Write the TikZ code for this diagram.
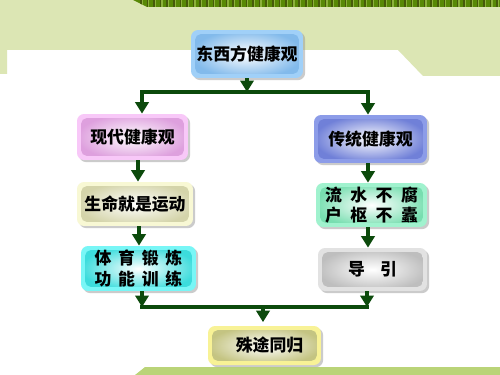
\documentclass[tikz,border=0pt]{standalone}
\usepackage{fontspec}
\setmainfont{Noto Sans CJK SC}
\usetikzlibrary{arrows.meta,shadows,calc}
\definecolor{dkg}{RGB}{12,74,12}
\definecolor{bgg}{RGB}{220,230,180}
\definecolor{barg}{RGB}{186,212,120}
\definecolor{strg}{RGB}{88,136,6}
\definecolor{strd}{RGB}{70,90,10}
\definecolor{strl}{RGB}{140,176,60}
\definecolor{cTopA}{RGB}{160,208,248}\definecolor{cTopB}{RGB}{130,186,235}
\definecolor{cLiA}{RGB}{248,200,248}\definecolor{cLiB}{RGB}{222,160,222}
\definecolor{cLiiA}{RGB}{248,248,212}\definecolor{cLiiB}{RGB}{212,212,170}
\definecolor{cLiiiA}{RGB}{120,246,246}\definecolor{cLiiiB}{RGB}{60,220,220}
\definecolor{cRiA}{RGB}{140,156,232}\definecolor{cRiB}{RGB}{112,128,216}
\definecolor{cRiiA}{RGB}{160,242,206}\definecolor{cRiiB}{RGB}{120,222,176}
\definecolor{cRiiiA}{RGB}{226,226,226}\definecolor{cRiiiB}{RGB}{190,190,190}
\definecolor{cBA}{RGB}{248,242,150}\definecolor{cBB}{RGB}{196,196,130}
\tikzset{
  gbox/.style 2 args={rounded corners=4pt, fill=#1, inner sep=0pt, align=center,
    font=\fontsize{9.6}{11.5}\selectfont\bfseries,
    drop shadow={shadow xshift=1.2pt, shadow yshift=-1.2pt, fill=black!40, opacity=0.5},
    path picture={\shade[rounded corners=3pt, inner color=white, outer color=#2]
      ($(path picture bounding box.south west)+(2.4pt,2.4pt)$) rectangle
      ($(path picture bounding box.north east)+(-2.4pt,-2.4pt)$);}},
  conn/.style={draw=dkg, line width=2.2pt},
  arr/.style={conn, -{Triangle[width=7.5pt,length=6.5pt]}},
}
\begin{document}
\begin{tikzpicture}[x=0.02cm,y=-0.02cm]
\useasboundingbox (0,0) rectangle (500,375);
\fill[white] (0,0) rectangle (500,375);
% background
\fill[bgg] (0,0) -- (500,0) -- (500,76) -- (423,76) -- (398,50) -- (7,50) -- (7,74) -- (0,74) -- cycle;
\begin{scope}
  \clip (133,0) -- (500,0) -- (500,7) -- (147,7) -- cycle;
  \fill[strg] (130,0) rectangle (500,7);
  \foreach \i in {0,...,56} {
    \fill[strd] (140+6.6*\i,0) rectangle (141.6+6.6*\i,7);
    \fill[strl] (141.6+6.6*\i,0) rectangle (142.8+6.6*\i,7);
  }
\end{scope}
\fill[barg] (145,367) -- (500,367) -- (500,375) -- (135,375) -- cycle;

% nodes
\node[gbox={cTopA}{cTopB}, minimum width=2.24cm, minimum height=0.96cm] (top) at (247,54) {东西方健康观};
\node[gbox={cLiA}{cLiB}, minimum width=2.22cm, minimum height=0.92cm] (L1) at (132.5,137) {现代健康观};
\node[gbox={cLiiA}{cLiiB}, minimum width=2.32cm, minimum height=0.88cm] (L2) at (135,204) {生命就是运动};
\node[gbox={cLiiiA}{cLiiiB}, minimum width=2.30cm, minimum height=0.90cm] (L3) at (138.5,268.5) {体\hspace{0.4em}育\hspace{0.4em}锻\hspace{0.4em}炼\\功\hspace{0.4em}能\hspace{0.4em}训\hspace{0.4em}练};
\node[gbox={cRiA}{cRiB}, minimum width=2.26cm, minimum height=0.96cm] (R1) at (370.5,139) {传统健康观};
\node[gbox={cRiiA}{cRiiB}, minimum width=2.22cm, minimum height=0.88cm] (R2) at (371.5,205) {流\hspace{0.5em}水\hspace{0.5em}不\hspace{0.5em}腐\\户\hspace{0.5em}枢\hspace{0.5em}不\hspace{0.5em}蠹};
\node[gbox={cRiiiA}{cRiiiB}, minimum width=2.18cm, minimum height=0.86cm] (R3) at (372.5,269.5) {导\hspace{0.9em}引};
\node[gbox={cBA}{cBB}, minimum width=2.26cm, minimum height=0.78cm] (B) at (264.5,345.5) {\hspace{0.6em}殊途同归};

% split
\coordinate (sp) at (247,92);
\coordinate (spL) at (142,92);
\coordinate (spR) at (368,92);
\draw[conn] ([xshift=-1.1pt]spL) -- ([xshift=1.1pt]spR);
\draw[arr] (top.south) -- (sp);
\draw[arr] (spL) -- (spL |- L1.north);
\draw[arr] (spR) -- (spR |- R1.north);

% columns
\draw[arr] ([xshift=0.11cm]L1.south) -- ([xshift=0.11cm]L1.south |- L2.north);
\draw[arr] ([xshift=0.08cm]L2.south) -- ([xshift=0.08cm]L2.south |- L3.north);
\draw[arr] ([xshift=-0.05cm]R1.south) -- ([xshift=-0.05cm]R1.south |- R2.north);
\draw[arr] ([xshift=-0.07cm]R2.south) -- ([xshift=-0.07cm]R2.south |- R3.north);

% merge
\coordinate (mL) at (142,307);
\coordinate (mR) at (367,307);
\coordinate (mC) at (263,307);
\draw[conn] ([xshift=-1.1pt]mL) -- ([xshift=1.1pt]mR);
\draw[arr] ([xshift=0.07cm]L3.south) -- ([xshift=0.07cm]L3.south |- mL);
\draw[arr] ([xshift=-0.11cm]R3.south) -- ([xshift=-0.11cm]R3.south |- mR);
\draw[arr] (mC) -- ([yshift=2pt]mC |- B.north);
\end{tikzpicture}
\end{document}
